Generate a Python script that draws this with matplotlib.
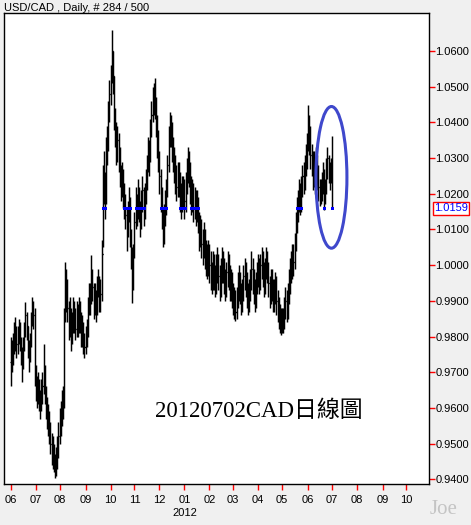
import numpy as np
import pandas as pd
import matplotlib
matplotlib.use('Agg')
import matplotlib.pyplot as plt
from matplotlib.collections import LineCollection
from matplotlib.patches import Ellipse
import matplotlib.transforms as mtransforms

# ---------------- data ----------------
closes = [
    0.9730, 0.9760, 0.9780, 0.9790, 0.9810, 0.9780, 0.9800, 0.9830, 0.9790, 0.9760,
    0.9720, 0.9780, 0.9820, 0.9860, 0.9830, 0.9770, 0.9750, 0.9790, 0.9850, 0.9880,
    0.9860, 0.9690, 0.9660, 0.9630, 0.9670, 0.9620, 0.9600, 0.9640, 0.9660, 0.9700,
    0.9640, 0.9610, 0.9580, 0.9560, 0.9540, 0.9500, 0.9470, 0.9480, 0.9450, 0.9420,
    0.9440, 0.9480, 0.9520, 0.9550, 0.9580, 0.9600, 0.9620, 0.9850, 0.9900, 0.9950,
    0.9880, 0.9830, 0.9870, 0.9800, 0.9840, 0.9880, 0.9850, 0.9820, 0.9870, 0.9830,
    0.9880, 0.9850, 0.9800, 0.9830, 0.9790, 0.9770, 0.9790, 0.9820, 0.9880, 0.9920,
    0.9900, 0.9960, 0.9940, 0.9880, 0.9920, 0.9870, 0.9940, 0.9960, 0.9900, 0.9920,
    1.0030, 1.0180, 1.0250, 1.0180, 1.0300, 1.0330, 1.0420, 1.0480, 1.0520, 1.0600,
    1.0530, 1.0420, 1.0380, 1.0320, 1.0350, 1.0300, 1.0260, 1.0220, 1.0250, 1.0200,
    1.0180, 1.0140, 1.0100, 1.0150, 1.0180, 1.0080, 1.0040, 0.9940, 1.0030, 1.0120,
    1.0180, 1.0150, 1.0200, 1.0160, 1.0120, 1.0180, 1.0210, 1.0150, 1.0200, 1.0230,
    1.0280, 1.0320, 1.0300, 1.0380, 1.0420, 1.0460, 1.0480, 1.0450, 1.0400, 1.0350,
    1.0300, 1.0250, 1.0200, 1.0150, 1.0080, 1.0130, 1.0180, 1.0200, 1.0280, 1.0350,
    1.0400, 1.0380, 1.0330, 1.0300, 1.0280, 1.0250, 1.0220, 1.0260, 1.0230, 1.0200,
    1.0180, 1.0220, 1.0200, 1.0180, 1.0230, 1.0260, 1.0300, 1.0260, 1.0220, 1.0180,
    1.0200, 1.0160, 1.0190, 1.0150, 1.0180, 1.0120, 1.0080, 1.0100, 1.0060, 1.0050,
    1.0080, 1.0040, 1.0020, 1.0010, 1.0030, 1.0000, 0.9980, 0.9960, 1.0010, 0.9970,
    0.9950, 0.9990, 1.0010, 0.9970, 0.9940, 0.9980, 1.0020, 0.9990, 0.9960, 0.9950,
    0.9980, 1.0000, 0.9970, 0.9940, 0.9960, 0.9920, 0.9890, 0.9900, 0.9870, 0.9910,
    0.9940, 0.9960, 0.9920, 0.9900, 0.9930, 0.9970, 0.9990, 0.9950, 0.9920, 0.9900,
    0.9930, 0.9960, 0.9990, 0.9960, 0.9930, 0.9910, 0.9950, 0.9980, 0.9990, 0.9960,
    1.0000, 1.0020, 0.9980, 0.9960, 0.9990, 1.0020, 0.9990, 0.9950, 0.9920, 0.9960,
    0.9940, 0.9910, 0.9930, 0.9950, 0.9900, 0.9880, 0.9860, 0.9840, 0.9850, 0.9830,
    0.9850, 0.9880, 0.9900, 0.9870, 0.9920, 0.9950, 0.9990, 1.0000, 1.0030, 1.0010,
    1.0060, 1.0120, 1.0150, 1.0180, 1.0200, 1.0170, 1.0220, 1.0250, 1.0240, 1.0280,
    1.0300, 1.0340, 1.0380, 1.0360, 1.0310, 1.0300, 1.0250, 1.0280, 1.0240, 1.0300,
    1.0250, 1.0220, 1.0180, 1.0200, 1.0230, 1.0260, 1.0190, 1.0210, 1.0270, 1.0300,
    1.0260, 1.0250, 1.0270, 1.0159,
]
highs = [
    0.9800, 0.9790, 0.9810, 0.9840, 0.9855, 0.9830, 0.9830, 0.9850, 0.9840, 0.9800,
    0.9770, 0.9800, 0.9840, 0.9897, 0.9870, 0.9830, 0.9790, 0.9810, 0.9870, 0.9910,
    0.9900, 0.9880, 0.9720, 0.9690, 0.9700, 0.9680, 0.9650, 0.9680, 0.9700, 0.9780,
    0.9720, 0.9660, 0.9630, 0.9610, 0.9590, 0.9560, 0.9530, 0.9520, 0.9500, 0.9470,
    0.9490, 0.9520, 0.9560, 0.9600, 0.9620, 0.9650, 0.9660, 0.9880, 1.0010, 0.9990,
    0.9960, 0.9900, 0.9910, 0.9880, 0.9870, 0.9910, 0.9900, 0.9880, 0.9900, 0.9890,
    0.9910, 0.9900, 0.9870, 0.9860, 0.9840, 0.9810, 0.9830, 0.9850, 0.9910, 0.9950,
    0.9950, 1.0028, 0.9990, 0.9950, 0.9950, 0.9930, 0.9970, 0.9990, 0.9970, 0.9960,
    1.0070, 1.0280, 1.0320, 1.0260, 1.0360, 1.0390, 1.0460, 1.0520, 1.0560, 1.0659,
    1.0600, 1.0530, 1.0440, 1.0400, 1.0390, 1.0370, 1.0330, 1.0280, 1.0290, 1.0270,
    1.0230, 1.0200, 1.0160, 1.0180, 1.0220, 1.0190, 1.0100, 1.0050, 1.0060, 1.0150,
    1.0220, 1.0200, 1.0240, 1.0220, 1.0180, 1.0210, 1.0250, 1.0220, 1.0230, 1.0270,
    1.0310, 1.0360, 1.0350, 1.0410, 1.0460, 1.0500, 1.0510, 1.0524, 1.0470, 1.0420,
    1.0380, 1.0320, 1.0270, 1.0220, 1.0160, 1.0170, 1.0210, 1.0240, 1.0310, 1.0390,
    1.0430, 1.0420, 1.0400, 1.0360, 1.0330, 1.0310, 1.0280, 1.0290, 1.0290, 1.0260,
    1.0230, 1.0250, 1.0250, 1.0240, 1.0260, 1.0300, 1.0330, 1.0320, 1.0290, 1.0250,
    1.0240, 1.0230, 1.0220, 1.0210, 1.0210, 1.0190, 1.0150, 1.0140, 1.0130, 1.0100,
    1.0120, 1.0100, 1.0070, 1.0060, 1.0070, 1.0060, 1.0040, 1.0010, 1.0040, 1.0030,
    1.0000, 1.0030, 1.0050, 1.0030, 1.0000, 1.0020, 1.0050, 1.0040, 1.0020, 0.9990,
    1.0010, 1.0040, 1.0030, 1.0000, 0.9990, 0.9980, 0.9950, 0.9940, 0.9930, 0.9940,
    0.9980, 1.0000, 0.9980, 0.9950, 0.9960, 1.0000, 1.0020, 1.0010, 0.9980, 0.9950,
    0.9960, 0.9990, 1.0040, 1.0020, 0.9990, 0.9960, 0.9980, 1.0010, 1.0030, 1.0020,
    1.0030, 1.0050, 1.0040, 1.0010, 1.0020, 1.0050, 1.0040, 1.0010, 0.9970, 0.9990,
    0.9990, 0.9960, 0.9960, 0.9980, 0.9970, 0.9930, 0.9910, 0.9890, 0.9880, 0.9880,
    0.9880, 0.9910, 0.9940, 0.9930, 0.9950, 0.9990, 1.0020, 1.0040, 1.0060, 1.0060,
    1.0090, 1.0150, 1.0190, 1.0210, 1.0240, 1.0230, 1.0250, 1.0280, 1.0290, 1.0310,
    1.0340, 1.0370, 1.0449, 1.0420, 1.0390, 1.0340, 1.0320, 1.0320, 1.0300, 1.0330,
    1.0310, 1.0280, 1.0240, 1.0240, 1.0260, 1.0290, 1.0270, 1.0240, 1.0300, 1.0330,
    1.0310, 1.0290, 1.0300, 1.0363,
]
lows = [
    0.9660, 0.9700, 0.9720, 0.9750, 0.9760, 0.9740, 0.9750, 0.9780, 0.9760, 0.9720,
    0.9672, 0.9710, 0.9760, 0.9800, 0.9790, 0.9740, 0.9700, 0.9730, 0.9770, 0.9830,
    0.9820, 0.9660, 0.9620, 0.9600, 0.9610, 0.9590, 0.9570, 0.9590, 0.9610, 0.9640,
    0.9610, 0.9570, 0.9540, 0.9520, 0.9500, 0.9470, 0.9440, 0.9430, 0.9420, 0.9405,
    0.9410, 0.9430, 0.9460, 0.9500, 0.9520, 0.9550, 0.9570, 0.9600, 0.9840, 0.9870,
    0.9840, 0.9790, 0.9800, 0.9760, 0.9780, 0.9810, 0.9810, 0.9790, 0.9800, 0.9800,
    0.9810, 0.9810, 0.9770, 0.9770, 0.9750, 0.9740, 0.9750, 0.9770, 0.9800, 0.9860,
    0.9860, 0.9890, 0.9900, 0.9850, 0.9860, 0.9840, 0.9860, 0.9910, 0.9870, 0.9870,
    0.9900, 1.0050, 1.0170, 1.0130, 1.0170, 1.0280, 1.0320, 1.0400, 1.0450, 1.0510,
    1.0480, 1.0380, 1.0330, 1.0280, 1.0290, 1.0260, 1.0220, 1.0180, 1.0190, 1.0160,
    1.0130, 1.0100, 1.0040, 1.0080, 1.0120, 1.0050, 0.9990, 0.9893, 0.9930, 1.0020,
    1.0100, 1.0110, 1.0130, 1.0120, 1.0080, 1.0100, 1.0150, 1.0110, 1.0130, 1.0170,
    1.0210, 1.0260, 1.0250, 1.0290, 1.0360, 1.0400, 1.0420, 1.0410, 1.0360, 1.0300,
    1.0260, 1.0200, 1.0150, 1.0100, 1.0050, 1.0060, 1.0110, 1.0140, 1.0190, 1.0260,
    1.0330, 1.0330, 1.0290, 1.0260, 1.0230, 1.0200, 1.0180, 1.0190, 1.0190, 1.0150,
    1.0130, 1.0150, 1.0160, 1.0130, 1.0150, 1.0200, 1.0230, 1.0220, 1.0170, 1.0140,
    1.0150, 1.0120, 1.0130, 1.0110, 1.0120, 1.0090, 1.0040, 1.0050, 1.0020, 1.0000,
    1.0020, 0.9990, 0.9970, 0.9960, 0.9970, 0.9950, 0.9930, 0.9920, 0.9930, 0.9930,
    0.9910, 0.9920, 0.9950, 0.9930, 0.9900, 0.9910, 0.9950, 0.9950, 0.9920, 0.9900,
    0.9910, 0.9940, 0.9930, 0.9900, 0.9900, 0.9880, 0.9860, 0.9850, 0.9843, 0.9850,
    0.9880, 0.9900, 0.9890, 0.9860, 0.9870, 0.9900, 0.9930, 0.9910, 0.9880, 0.9860,
    0.9870, 0.9900, 0.9930, 0.9920, 0.9890, 0.9870, 0.9880, 0.9920, 0.9940, 0.9920,
    0.9930, 0.9960, 0.9940, 0.9910, 0.9920, 0.9960, 0.9950, 0.9910, 0.9880, 0.9890,
    0.9900, 0.9870, 0.9870, 0.9890, 0.9860, 0.9840, 0.9820, 0.9810, 0.9804, 0.9810,
    0.9810, 0.9820, 0.9850, 0.9840, 0.9850, 0.9890, 0.9920, 0.9950, 0.9960, 0.9970,
    0.9990, 1.0040, 1.0090, 1.0120, 1.0150, 1.0140, 1.0150, 1.0190, 1.0200, 1.0210,
    1.0250, 1.0270, 1.0320, 1.0310, 1.0270, 1.0250, 1.0210, 1.0220, 1.0200, 1.0220,
    1.0210, 1.0180, 1.0165, 1.0170, 1.0180, 1.0200, 1.0155, 1.0170, 1.0200, 1.0240,
    1.0230, 1.0210, 1.0230, 1.0159,
]
last_price = 1.0159
y_ticks = [0.9400, 0.9500, 0.9600, 0.9700, 0.9800, 0.9900, 1.0000,
           1.0100, 1.0200, 1.0300, 1.0400, 1.0500, 1.0600]
title_text = "USD/CAD , Daily, # 284 / 500"
note_text = "20120702CAD日線圖"

# ---------------- figure ----------------
W, H = 471, 525
fig = plt.figure(figsize=(W / 100, H / 100), dpi=100, facecolor='#f0f0f0')
ax = fig.add_axes([4 / W, 1 - 484 / H, (428.5 - 4) / W, (484 - 13) / H])
ax.set_facecolor('white')

n = len(closes)
opens = [closes[0]] + closes[:-1]
x = np.arange(n)

# trading-day calendar (for month ticks)
days = pd.bdate_range('2011-06-01', '2012-10-31')
months = days.to_period('M')
tick_pos = [i for i in range(len(days)) if i == 0 or months[i] != months[i - 1]]
tick_lab = [days[i].strftime('%m') for i in tick_pos]

vsegs, tsegs = [], []
for i in range(n):
    vsegs.append([(x[i], lows[i]), (x[i], highs[i])])
    tsegs.append([(x[i] - 0.5, opens[i]), (x[i], opens[i])])
    tsegs.append([(x[i], closes[i]), (x[i] + 0.9, closes[i])])
ax.add_collection(LineCollection(vsegs, colors='black', linewidths=1.05,
                                 antialiased=True, zorder=3))
ax.add_collection(LineCollection(tsegs, colors='black', linewidths=0.9,
                                 antialiased=True, zorder=3))

# blue marks where bars cross the current price
bsegs = [[(x[i] - 0.7, last_price), (x[i] + 0.7, last_price)]
         for i in range(n) if lows[i] <= last_price <= highs[i]]
ax.add_collection(LineCollection(bsegs, colors='#0000ff', linewidths=1.0,
                                 antialiased=False, zorder=4))

# ellipse highlight
ax.add_patch(Ellipse((282.5, 1.0246), 27.3, 0.0397, fill=False,
                     edgecolor='#3f48cc', linewidth=2.2, zorder=5))

ax.set_xlim(-5.9, 368)
ax.set_ylim(0.93868, 1.07065)

# axes styling
for s in ax.spines.values():
    s.set_color('black')
    s.set_linewidth(1.0)

ax.yaxis.tick_right()
ax.set_yticks(y_ticks)
ax.set_yticklabels([f'{v:.4f}' for v in y_ticks])
ax.tick_params(axis='y', direction='out', length=4, width=1, color='red',
               labelcolor='black', labelsize=8, pad=1)
ax.set_xticks(tick_pos)
ax.set_xticklabels(tick_lab)
ax.tick_params(axis='x', direction='out', length=4, width=1, color='red',
               labelcolor='black', labelsize=8, pad=4)
for lab in ax.get_xticklabels() + ax.get_yticklabels():
    lab.set_fontfamily('Liberation Sans')

# current price label
trans = mtransforms.blended_transform_factory(ax.transAxes, ax.transData)
ax.text(1.013, last_price, f'{last_price:.4f}', transform=trans, color='#0000ff',
        fontsize=8, family='Liberation Sans', va='center', ha='left',
        bbox=dict(boxstyle='square,pad=0.12', facecolor='white', edgecolor='red', linewidth=1.0),
        clip_on=False, zorder=6)

# year label under January
jan_idx = tick_pos[tick_lab.index('01')]
ax.text(jan_idx, -0.062, '2012', transform=mtransforms.blended_transform_factory(ax.transData, ax.transAxes),
        ha='center', va='center', fontsize=8, family='Liberation Sans', clip_on=False)

# title
fig.text(4 / W, 1 - 8 / H, title_text, ha='left', va='center', fontsize=8,
         family='Liberation Sans', color='black')

# annotation text (centred in pixel space)
ax.text(258.5 / W, 1 - 411 / H, note_text, transform=fig.transFigure,
        ha='center', va='center', fontsize=16.5,
        family=['Liberation Serif', 'Noto Sans CJK TC'], color='black', zorder=6)

# watermark
fig.text(444 / W, 1 - 510 / H, 'Joe', ha='center', va='center', fontsize=15,
         family='Liberation Serif', color='#c4c4c4')

fig.savefig('out.png', dpi=100, facecolor=fig.get_facecolor())
